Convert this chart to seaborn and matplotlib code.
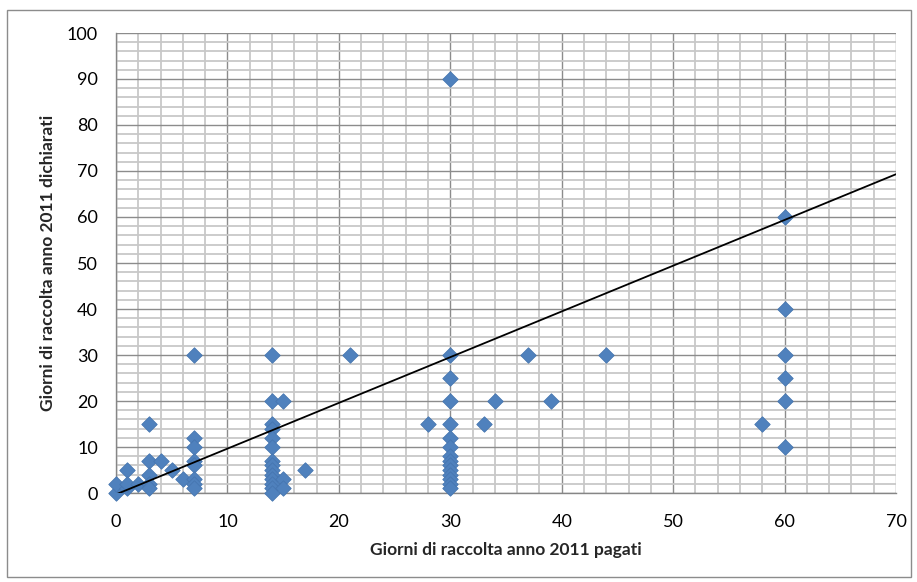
import matplotlib
matplotlib.use("Agg")
import matplotlib.pyplot as plt
from matplotlib.patches import Rectangle
from matplotlib.ticker import MultipleLocator
import seaborn as sns
import pandas as pd

# Paid vs declared harvest days, 2011
paid_days = [0, 0,
             1, 1, 1,
             2,
             3, 3, 3, 3, 3,
             4, 5, 6,
             7, 7, 7, 7, 7, 7, 7, 7,
             14, 14, 14, 14, 14, 14, 14, 14, 14, 14, 14, 14, 14, 14,
             15, 15, 15,
             17, 21, 28,
             30, 30, 30, 30, 30, 30, 30, 30, 30, 30, 30, 30, 30, 30, 30,
             33, 34, 37, 39, 44, 58,
             60, 60, 60, 60, 60, 60]
declared_days = [0, 2,
                 5, 1, 2,
                 2,
                 15, 7, 4, 2, 1,
                 7, 5, 3,
                 30, 12, 10, 7, 6, 3, 2, 1,
                 30, 20, 15, 14, 12, 10, 7, 6, 5, 4, 3, 2, 1, 0,
                 20, 3, 1,
                 5, 30, 15,
                 90, 30, 25, 20, 15, 12, 10, 8, 7, 6, 5, 4, 3, 2, 1,
                 15, 20, 30, 20, 30, 15,
                 60, 40, 30, 25, 20, 10]

# Linear trend line end points
trend_x = [0, 70]
trend_y = [-0.3, 69.3]

x_label = "Giorni di raccolta anno 2011 pagati"
y_label = "Giorni di raccolta anno 2011 dichiarati"

sns.set_style("white")
plt.rcParams["font.family"] = ["Lato", "DejaVu Sans"]

df = pd.DataFrame({"pagati": paid_days, "dichiarati": declared_days})

fig = plt.figure(figsize=(9.17, 5.82), dpi=100)
ax = fig.add_axes([116 / 917, 1 - 493 / 582, (896 - 116) / 917, (493 - 33) / 582])

ax.set_xlim(0, 70)
ax.set_ylim(0, 100)
ax.xaxis.set_major_locator(MultipleLocator(10))
ax.yaxis.set_major_locator(MultipleLocator(10))
ax.xaxis.set_minor_locator(MultipleLocator(2))
ax.yaxis.set_minor_locator(MultipleLocator(2))

ax.grid(which="minor", color="#c8c8c8", linewidth=1.3, zorder=0)
ax.grid(which="major", color="#8c8c8c", linewidth=1.0, zorder=0.5)
ax.set_axisbelow(True)

sns.scatterplot(data=df, x="pagati", y="dichiarati", marker="D", s=62,
                color="#4F81BD", edgecolor="#4676B0", linewidth=0.6,
                zorder=3, ax=ax, clip_on=False)
sns.lineplot(x=trend_x, y=trend_y, color="black", linewidth=1.3, ax=ax, zorder=4)

for side in ("top", "right"):
    ax.spines[side].set_visible(False)
for side in ("left", "bottom"):
    ax.spines[side].set_color("#868686")
    ax.spines[side].set_linewidth(1.0)

ax.tick_params(which="major", direction="out", length=6, width=1,
               color="#868686", labelsize=13, labelcolor="black")
ax.tick_params(axis="x", which="major", pad=9)
ax.tick_params(axis="y", which="major", pad=7)
ax.tick_params(which="minor", length=0)

ax.set_xlabel(x_label, fontsize=12.5, fontweight="bold", labelpad=9)
ax.set_ylabel(y_label, fontsize=12.5, fontweight="bold", labelpad=8)

# Chart area border
fig.patches.append(Rectangle((7 / 917, 1 - 577 / 582), (911 - 7) / 917, (577 - 10) / 582,
                             transform=fig.transFigure, fill=False,
                             edgecolor="#8c8c8c", linewidth=1.0))

fig.savefig("out.png", dpi=100)
